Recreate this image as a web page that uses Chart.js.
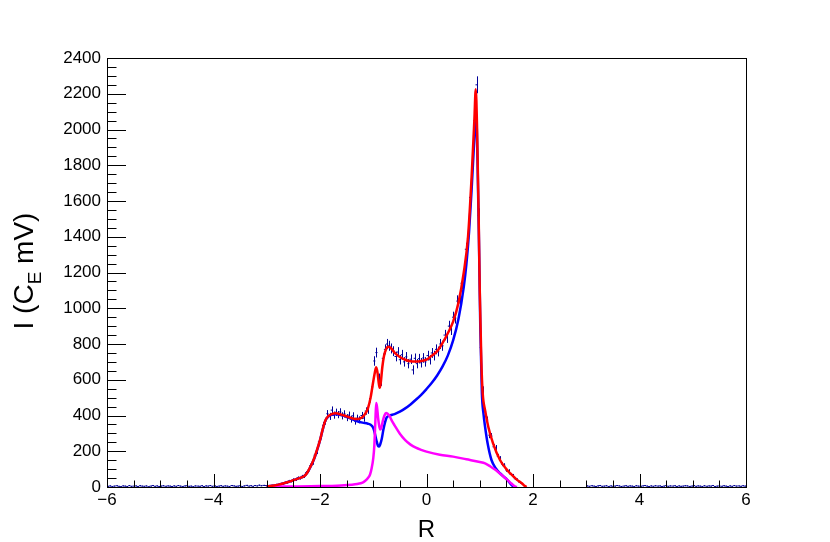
<!DOCTYPE html>
<html>
<head>
<meta charset="utf-8">
<script src="https://cdn.jsdelivr.net/npm/chart.js@4.4.1/dist/chart.umd.min.js"></script>
<style>
  html, body { margin: 0; padding: 0; background: #fff; }
  #wrap { width: 830px; height: 542px; }
</style>
</head>
<body>
<div id="wrap"><canvas id="c" width="830" height="542"></canvas></div>
<script>
// histogram (bin width 0.04), counts
const binWidth = 0.04;
const histStart = -3.0;
const histCounts = [
  3, 6, 9, 8, 14, 12, 19, 16, 25, 24, 34, 31, 42, 40, 52, 48, 60, 58, 80, 88,
  120, 136, 178, 198, 252, 284, 345, 368, 410, 395, 430, 402, 418, 405, 420, 398, 409, 388, 402, 380,
  398, 368, 385, 376, 400, 385, 425, 430, 495, 560, 705, 752, 610, 590, 720, 770, 800, 790, 775, 760,
  730, 755, 712, 740, 700, 728, 690, 715, 655, 720, 690, 718, 695, 722, 700, 735, 712, 750, 735, 770,
  758, 800, 790, 850, 835, 900, 880, 950, 945, 1040, 1030, 1140, 1180, 1330, 1390, 1620, 1780, 2050, 2250, 1520,
  780, 540, 420, 375, 290, 285, 225, 220, 172, 160, 128, 122, 95, 90, 70, 65, 46, 42, 28, 20
];
const tailLeftStart = -6.0;
const tailLeftCounts = [
  4, 6, 3, 5, 7, 4, 2, 6, 5, 3, 8, 4, 5, 6, 3, 7, 5, 4, 6, 2, 5, 8, 4, 6, 3,
  5, 7, 4, 6, 5, 3, 6, 4, 8, 5, 3, 6, 7, 4, 5, 2, 6, 5, 4, 7, 3, 6, 5, 8, 4,
  6, 3, 5, 7, 4, 6, 5, 3, 8, 6, 4, 5, 7, 3, 6, 9, 5, 7, 4, 8, 6, 10, 7, 9, 8
];
const tailRightStart = 3.0;
const tailRightCounts = [
  6, 4, 7, 5, 3, 6, 8, 4, 5, 7, 3, 6, 4, 5, 8, 6, 3, 5, 7, 4, 6, 5, 3, 7, 5,
  4, 6, 8, 5, 3, 6, 4, 7, 5, 6, 3, 5, 8, 4, 6, 5, 7, 3, 6, 4, 5, 7, 6, 3, 5,
  8, 4, 6, 5, 3, 7, 4, 6, 5, 8, 3, 5, 6, 4, 7, 5, 3, 6, 4, 8, 5, 6, 4, 7, 5
];

// total fit (red)
const redR = [-3.0, -2.8, -2.6, -2.5, -2.4, -2.3, -2.25, -2.2, -2.15, -2.1, -2.05, -2.0, -1.95, -1.9, -1.85, -1.8,
  -1.7, -1.6, -1.5, -1.4, -1.3, -1.2, -1.15, -1.1, -1.05, -1.0, -0.97, -0.945, -0.92, -0.9, -0.88, -0.86,
  -0.83, -0.8, -0.76, -0.72, -0.68, -0.6, -0.5, -0.4, -0.3, -0.2, -0.1, 0, 0.1, 0.2, 0.3, 0.4, 0.5, 0.6,
  0.7, 0.78, 0.85, 0.9, 0.925, 0.95, 0.98, 1.0, 1.03, 1.055, 1.1, 1.16, 1.25, 1.38, 1.5, 1.57, 1.7, 1.79, 1.85, 1.88];
const redI = [2, 12, 28, 38, 48, 60, 75, 102, 132, 168, 213, 262, 322, 372, 395, 405,
  412, 405, 395, 385, 380, 392, 410, 440, 500, 590, 640, 670, 640, 590, 555, 580,
  670, 730, 770, 785, 780, 752, 727, 712, 703, 702, 705, 712, 735, 760, 805, 860, 925, 1030,
  1200, 1400, 1750, 2060, 2225, 2000, 1500, 1100, 700, 525, 430, 337, 244, 151, 100, 77, 40, 21, 5, 0];

// component 1 (blue)
const blueR = [-3.0, -2.8, -2.6, -2.5, -2.4, -2.3, -2.25, -2.2, -2.15, -2.1, -2.05, -2.0, -1.95, -1.9, -1.85, -1.8,
  -1.7, -1.6, -1.5, -1.4, -1.3, -1.2, -1.1, -1.05, -1.0, -0.97, -0.94, -0.91, -0.89, -0.87, -0.84, -0.81,
  -0.78, -0.75, -0.7, -0.6, -0.5, -0.4, -0.3, -0.2, -0.1, 0, 0.1, 0.2, 0.3, 0.4, 0.5, 0.6, 0.7, 0.75,
  0.8, 0.85, 0.9, 0.93, 0.96, 0.985, 1.01, 1.04, 1.07, 1.1, 1.15, 1.22, 1.3, 1.38, 1.45, 1.5, 1.55, 1.6, 1.65];
const blueI = [2, 12, 28, 38, 48, 60, 75, 100, 130, 165, 210, 260, 320, 370, 392, 402,
  407, 402, 393, 380, 368, 360, 354, 348, 330, 300, 260, 230, 226, 238, 270, 320,
  360, 388, 398, 408, 422, 440, 462, 488, 516, 548, 583, 624, 673, 735, 820, 940, 1120, 1250,
  1430, 1680, 1960, 2095, 1800, 1382, 900, 524, 410, 337, 240, 151, 105, 77, 58, 45, 28, 10, 0];

// component 2 (magenta)
const magR = [-3.0, -2.5, -2.0, -1.6, -1.4, -1.3, -1.2, -1.15, -1.1, -1.06, -1.03, -1.0, -0.98, -0.96, -0.945,
  -0.93, -0.91, -0.89, -0.87, -0.85, -0.82, -0.79, -0.76, -0.73, -0.7, -0.65, -0.6, -0.5, -0.4, -0.3, -0.2,
  -0.1, 0, 0.25, 0.5, 0.75, 1.0, 1.1, 1.2, 1.3, 1.4, 1.5, 1.6, 1.66, 1.7];
const magI = [2, 3, 5, 9, 13, 17, 25, 35, 50, 70, 105, 160, 230, 370, 470,
  450, 390, 345, 322, 330, 370, 400, 414, 410, 400, 370, 345, 298, 262, 237, 220,
  208, 198, 180, 170, 155, 140, 132, 115, 95, 70, 45, 18, 3, 0];

const xTickStep = 2;
const yTickStep = 200;

function pts(xs, ys) {
  return xs.map((x, i) => ({ x: x, y: ys[i] }));
}

function fmt(v) {
  return v < 0 ? '\u2212' + Math.abs(v) : String(v);
}

function drawBins(ctx, xs, ys, start, counts) {
  counts.forEach((v, i) => {
    const lo = start + i * binWidth;
    const hi = lo + binWidth;
    const err = Math.sqrt(v);
    const px = Math.round(xs.getPixelForValue(lo + binWidth / 2)) + 0.5;
    const py = ys.getPixelForValue(v);
    ctx.moveTo(xs.getPixelForValue(lo), py);
    ctx.lineTo(xs.getPixelForValue(hi), py);
    ctx.moveTo(px, ys.getPixelForValue(v - err));
    ctx.lineTo(px, ys.getPixelForValue(v + err));
  });
}

const rootStyle = {
  id: 'rootStyle',
  beforeDatasetsDraw(chart) {
    const { ctx, chartArea: a } = chart;
    const xs = chart.scales.x, ys = chart.scales.y;
    ctx.save();
    ctx.beginPath();
    ctx.rect(a.left, a.top, a.right - a.left, a.bottom - a.top);
    ctx.clip();
    ctx.strokeStyle = '#000099';
    ctx.lineWidth = 1;
    ctx.beginPath();
    drawBins(ctx, xs, ys, tailLeftStart, tailLeftCounts);
    drawBins(ctx, xs, ys, histStart, histCounts);
    drawBins(ctx, xs, ys, tailRightStart, tailRightCounts);
    ctx.stroke();
    ctx.restore();
  },
  afterDraw(chart) {
    const { ctx, chartArea: a } = chart;
    const xs = chart.scales.x, ys = chart.scales.y;
    ctx.save();
    ctx.strokeStyle = '#000';
    ctx.lineWidth = 1;
    ctx.beginPath();
    // inward ticks on the x axis
    for (let v = -6; v <= 6.001; v += 0.5) {
      const px = Math.round(xs.getPixelForValue(v)) + 0.5;
      const len = Math.abs(v % 2) < 1e-6 ? 13 : 6.5;
      ctx.moveTo(px, a.bottom);
      ctx.lineTo(px, a.bottom - len);
    }
    // inward ticks on the y axis
    for (let v = 0; v <= 2400; v += 50) {
      const py = Math.round(ys.getPixelForValue(v)) + 0.5;
      const len = v % 200 === 0 ? 19 : 9.5;
      ctx.moveTo(a.left, py);
      ctx.lineTo(a.left + len, py);
    }
    ctx.stroke();
    ctx.strokeRect(Math.round(a.left) + 0.5, Math.round(a.top) + 0.5,
      Math.round(a.right - a.left), Math.round(a.bottom - a.top));

    // y title with subscript
    const big = '28px "Liberation Sans", Arial, sans-serif';
    const small = '19px "Liberation Sans", Arial, sans-serif';
    const parts = [['I (C', big, 0], ['E', small, 8], [' mV)', big, 0]];
    ctx.fillStyle = '#000';
    ctx.textBaseline = 'alphabetic';
    let total = 0;
    parts.forEach(p => { ctx.font = p[1]; total += ctx.measureText(p[0]).width; });
    ctx.translate(33, 271);
    ctx.rotate(-Math.PI / 2);
    let x0 = -total / 2;
    parts.forEach(p => {
      ctx.font = p[1];
      ctx.fillText(p[0], x0, p[2]);
      x0 += ctx.measureText(p[0]).width;
    });
    ctx.restore();
  }
};

const tickFont = { family: '"Liberation Sans", Arial, sans-serif', size: 17 };

new Chart(document.getElementById('c'), {
  type: 'scatter',
  data: {
    datasets: [
      { label: 'total', data: pts(redR, redI), showLine: true, borderColor: '#ff0000', borderWidth: 2.5,
        pointRadius: 0, cubicInterpolationMode: 'monotone', order: 0 },
      { label: 'comp2', data: pts(magR, magI), showLine: true, borderColor: '#ff00ff', borderWidth: 2.5,
        pointRadius: 0, cubicInterpolationMode: 'monotone', order: 1 },
      { label: 'comp1', data: pts(blueR, blueI), showLine: true, borderColor: '#0000ff', borderWidth: 2.5,
        pointRadius: 0, cubicInterpolationMode: 'monotone', order: 2 }
    ]
  },
  options: {
    responsive: false,
    animation: false,
    events: [],
    layout: { padding: { top: 58, right: 84, left: 0, bottom: 0 } },
    plugins: { legend: { display: false }, tooltip: { enabled: false } },
    scales: {
      x: {
        type: 'linear', min: -6, max: 6,
        grid: { display: false, drawTicks: false },
        border: { display: false },
        ticks: { stepSize: xTickStep, autoSkip: false, maxRotation: 0, padding: 3,
          color: '#000', font: tickFont, callback: v => fmt(v) },
        title: { display: true, text: 'R', color: '#000', padding: 0,
          font: { family: '"Liberation Sans", Arial, sans-serif', size: 24, lineHeight: 1 } },
        afterFit: s => { s.height = 55; }
      },
      y: {
        type: 'linear', min: 0, max: 2400,
        grid: { display: false, drawTicks: false },
        border: { display: false },
        ticks: { stepSize: yTickStep, autoSkip: false, padding: 6,
          color: '#000', font: tickFont, callback: v => String(v) },
        afterFit: s => { s.width = 107; }
      }
    }
  },
  plugins: [rootStyle]
});
</script>
</body>
</html>
